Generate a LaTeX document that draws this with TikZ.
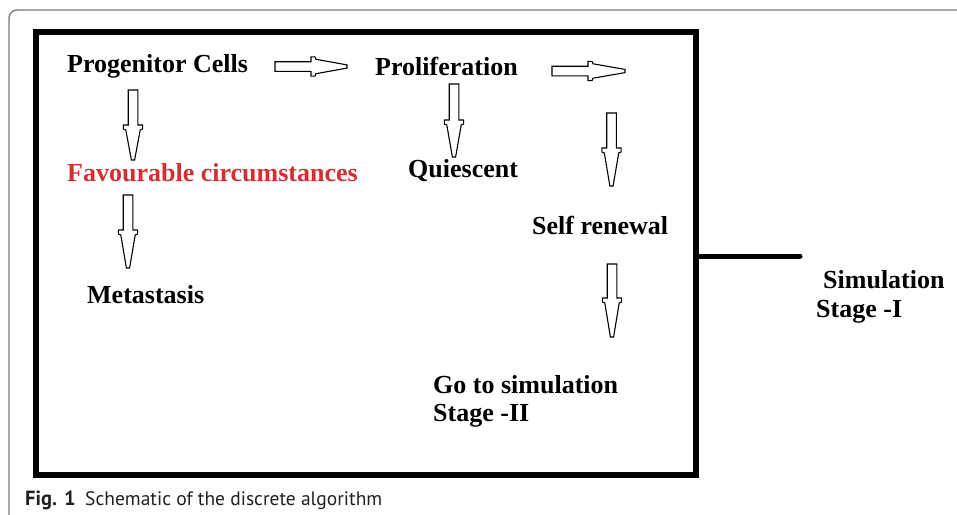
\documentclass[tikz,border=0pt]{standalone}
\usepackage{fontspec}
\setmainfont{Liberation Serif}
\newfontfamily\capfont{PT Sans}
\definecolor{favred}{RGB}{210,48,48}
\definecolor{frame}{RGB}{120,120,120}
\definecolor{captext}{RGB}{35,31,32}
\tikzset{
  lbl/.style={anchor=base west, inner sep=0pt, font=\bfseries\fontsize{26}{30}\selectfont, text=black},
  arrowline/.style={draw=black, line width=1.1pt, fill=white, line join=miter},
  caplbl/.style={anchor=base west, inner sep=0pt, text=captext},
}
% #1 start coordinate, #2 rotation, #3 shaft length, #4 total length
\newcommand\hollowarrow[4]{%
  \draw[arrowline, shift={(#1)}, rotate=#2]
    (0,-4.8) -- (#3,-4.8) -- (#3,-9.6) -- ({#3+4},-9.6) -- ({#3+5},-7.2)
    -- (#4,-1.6) -- (#4,1.6) -- ({#3+5},7.2) -- ({#3+4},9.6) -- (#3,9.6)
    -- (#3,4.8) -- (0,4.8) -- cycle;}
\begin{document}
\begin{tikzpicture}[x=1pt,y=-1pt]
\useasboundingbox (0,0) rectangle (957,514);
% page frame
\draw[frame, line width=1.3pt, rounded corners=8pt] (9,516) -- (9,10) -- (959,10);
% main box
\node[draw=black, line width=6pt, minimum width=660pt, minimum height=443.5pt, inner sep=0pt]
  (box) at (365.5,253.25) {};
\coordinate (hl) at (800,256);
\draw[line width=5pt, line cap=round] (box.east |- hl) -- (hl);
% texts
\node[lbl] (pc) at (67,72) {Progenitor Cells};
\node[lbl] (prolif) at (375,75) {Proliferation};
\node[lbl, text=favred] (fav) at (67,181) {Favourable circumstances};
\node[lbl] (quies) at (408,177) {Quiescent};
\node[lbl] (self) at (532,234) {Self renewal};
\node[lbl] (meta) at (87,303) {Metastasis};
\node[lbl] (sim) at (823,288) {Simulation};
\node[lbl] (stage1) at (816,317) {Stage -I};
\node[lbl] (go) at (433,393) {Go to simulation};
\node[lbl] (stage2) at (433,421) {Stage -II};
% arrows
\coordinate (a1) at (275,66.5);
\coordinate (a2) at (552,71);
\coordinate (a3) at (133,90);
\coordinate (a4) at (128,195);
\coordinate (a5) at (454,84);
\coordinate (a6) at (611.5,113);
\coordinate (a7) at (612,264);
\hollowarrow{a1}{0}{36}{72}
\hollowarrow{a2}{0}{36}{73}
\hollowarrow{a3}{-90}{35}{70}
\hollowarrow{a4}{-90}{35}{73}
\hollowarrow{a5}{-90}{36}{73}
\hollowarrow{a6}{-90}{35}{73}
\hollowarrow{a7}{-90}{34}{73}
% caption
\node[caplbl, font=\capfont\bfseries\fontsize{20.5}{22}\selectfont] (figlbl) at (25,505) {Fig. 1};
\node[caplbl, font=\capfont\fontsize{19.5}{22}\selectfont] (captxt) at (85,505) {Schematic of the discrete algorithm};
\end{tikzpicture}
\end{document}
